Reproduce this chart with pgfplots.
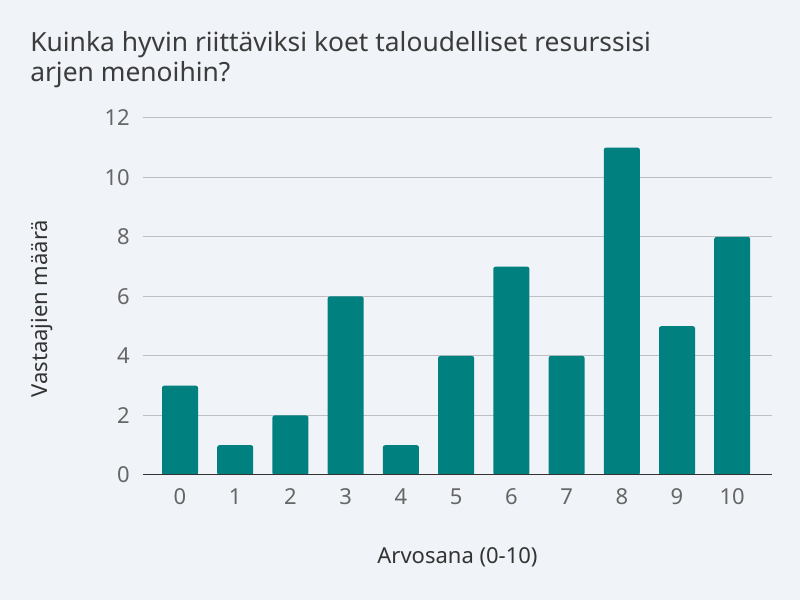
\documentclass[border=0pt]{standalone}
\usepackage{pgfplots}
\pgfplotsset{compat=1.18}
\usepackage{fontspec}
\setmainfont{Noto Sans}
\definecolor{bgcol}{HTML}{F0F3F8}
\definecolor{barcol}{HTML}{00807F}
\definecolor{gridcol}{HTML}{BDBFC3}
\definecolor{tickcol}{HTML}{666666}
\definecolor{titlecol}{HTML}{3C3C3C}
\definecolor{labcol}{HTML}{333333}
\begin{document}
\begin{tikzpicture}
\fill[bgcol] (0,0) rectangle (600pt,450pt);
\useasboundingbox (0,0) rectangle (600pt,450pt);
\node[anchor=base west, inner sep=0pt, text=titlecol, font=\fontsize{19.8pt}{23pt}\selectfont] at (22.5pt,411pt) {Kuinka hyvin riittäviksi koet taloudelliset resurssisi};
\node[anchor=base west, inner sep=0pt, text=titlecol, font=\fontsize{19.8pt}{23pt}\selectfont] at (22.5pt,389pt) {arjen menoihin?};
\begin{axis}[
  at={(107.25pt,93.75pt)}, anchor=south west,
  scale only axis, width=471.75pt, height=267.75pt,
  ybar, bar width=27pt,
  xmin=-0.67, xmax=10.72, ymin=0, ymax=12,
  xtick={0,...,10}, ytick={0,2,...,12},
  axis line style={draw=none},
  major tick length=0pt,
  ymajorgrids, grid style={gridcol, line width=0.75pt},
  tick label style={text=tickcol, font=\fontsize{16.5pt}{19pt}\selectfont},
  /pgf/number format/assume math mode=true,
  xticklabel style={anchor=base, inner sep=0pt, yshift=-22.5pt},
  yticklabel style={anchor=east, inner sep=0pt, xshift=-9.75pt},
  xlabel={Arvosana (0-10)}, ylabel={Vastaajien määrä},
  every axis x label/.style={at={(axis description cs:0.5,-0.2493)}, anchor=base, inner sep=0pt, text=labcol, font=\fontsize{16.5pt}{19pt}\selectfont},
  every axis y label/.style={at={(axis description cs:-0.1526,0.466)}, anchor=base, rotate=90, inner sep=0pt, text=labcol, font=\fontsize{16.5pt}{19pt}\selectfont},
]
\addplot[fill=barcol, draw=none, rounded corners=1.5pt] coordinates {(0,3) (1,1) (2,2) (3,6) (4,1) (5,4) (6,7) (7,4) (8,11) (9,5) (10,8)};
\draw[labcol, line width=1.5pt] (axis cs:-0.67,0) -- (axis cs:10.72,0);
\end{axis}
\end{tikzpicture}
\end{document}
